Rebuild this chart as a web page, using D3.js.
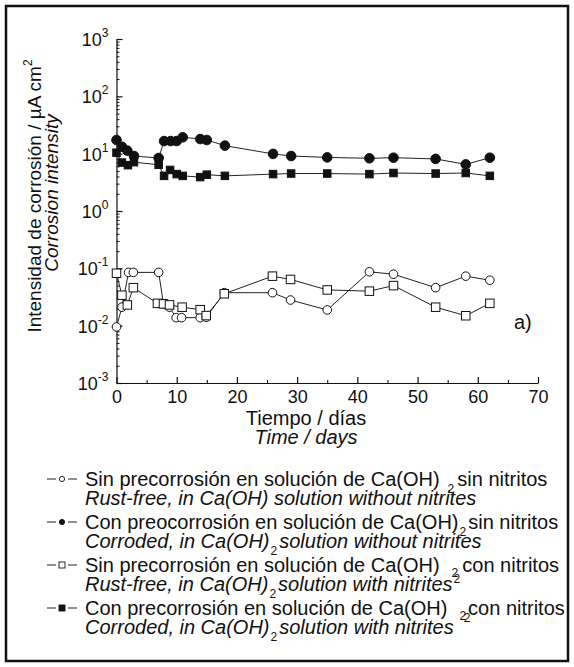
<!DOCTYPE html>
<html>
<head>
<meta charset="utf-8">
<script src="https://cdn.jsdelivr.net/npm/d3@7"></script>
<style>
  body { margin: 0; background: #fff; }
  svg text { font-family: "Liberation Sans", Arial, sans-serif; fill: #111; }
</style>
</head>
<body>
<div id="chart"></div>
<script>
// days and corrosion intensity (µA/cm2) for each series
const tRustFreeNoNit = [0, 0.9, 2, 2.8, 7, 7.8, 8.8, 9.9, 10.8, 13.9, 14.9, 17.9, 25.9, 28.9, 35, 42, 46, 53, 58, 62];
const vRustFreeNoNit = [0.0095, 0.021, 0.085, 0.085, 0.085, 0.024, 0.021, 0.0138, 0.0138, 0.0138, 0.014, 0.0376, 0.0376, 0.028, 0.0188, 0.087, 0.079, 0.046, 0.073, 0.062];

const tCorrodedNoNit = [0, 0.9, 1.8, 2.9, 7, 7.9, 9, 10, 11, 13.9, 15, 18, 26, 29, 35, 42, 46, 53, 58, 62];
const vCorrodedNoNit = [17.3, 13.2, 11.3, 9.1, 8.4, 16.6, 16.6, 16.6, 19.3, 18, 17.3, 13.8, 9.9, 9.1, 8.6, 8.3, 8.5, 8.1, 6.5, 8.5];

const tRustFreeNit = [0, 0.9, 1.8, 2.8, 6.8, 7.8, 8.8, 10.9, 13.9, 14.9, 17.9, 25.9, 28.9, 35, 42, 46, 53, 58, 62];
const vRustFreeNit = [0.082, 0.034, 0.023, 0.046, 0.0245, 0.024, 0.023, 0.021, 0.019, 0.015, 0.036, 0.073, 0.064, 0.042, 0.040, 0.050, 0.021, 0.0149, 0.0245];

const tCorrodedNit = [0, 0.9, 1.9, 2.9, 7, 7.9, 8.9, 10, 11, 13.9, 15, 18, 26, 29, 35, 42, 46, 53, 58, 62];
const vCorrodedNit = [10.4, 7.0, 6.3, 7.1, 6.4, 4.1, 5.2, 4.4, 4.1, 3.9, 4.3, 4.1, 4.4, 4.5, 4.5, 4.4, 4.6, 4.5, 4.6, 4.1];

const xTicks = [0, 10, 20, 30, 40, 50, 60, 70];
const yExponents = [-3, -2, -1, 0, 1, 2, 3];

const width = 574;
const height = 667;
const margin = { top: 39, left: 116.5 };
const plotW = 421.5;
const plotH = 344;
const fs = 20;

const svg = d3.select("#chart").append("svg")
  .attr("width", width)
  .attr("height", height);

// outer frame
svg.append("rect")
  .attr("x", 6).attr("y", 6)
  .attr("width", 562).attr("height", 655)
  .attr("fill", "none").attr("stroke", "#111").attr("stroke-width", 2.5);

const g = svg.append("g").attr("transform", `translate(${margin.left},${margin.top})`);

const x = d3.scaleLinear().domain([0, 70]).range([0, plotW]);
const y = d3.scaleLog().domain([1e-3, 1e3]).range([plotH, 0]);

// x axis, ticks pointing up
const xMinor = d3.range(5, 70, 10);
g.append("g")
  .attr("transform", `translate(0,${plotH})`)
  .call(d3.axisBottom(x).tickValues(xMinor).tickSize(-3).tickFormat(""))
  .call(a => a.select(".domain").remove());
g.append("g")
  .attr("transform", `translate(0,${plotH})`)
  .call(d3.axisBottom(x).tickValues(xTicks).tickSize(-6).tickSizeOuter(0).tickFormat(d3.format("d")))
  .call(a => a.selectAll("text").attr("y", 7).attr("font-size", 18))
  .call(a => a.selectAll("line, path").attr("stroke", "#111").attr("stroke-width", 1.2));

// y axis, ticks pointing right
const yMinor = [];
yExponents.slice(0, -1).forEach(e => {
  for (let k = 2; k <= 9; k++) yMinor.push(k * Math.pow(10, e));
});
g.append("g")
  .call(d3.axisLeft(y).tickValues(yMinor).tickSize(-3).tickFormat(""))
  .call(a => a.select(".domain").remove())
  .call(a => a.selectAll("line").attr("stroke", "#111"));
g.append("g")
  .call(d3.axisLeft(y).tickValues(yExponents.map(e => Math.pow(10, e))).tickSize(-6).tickSizeOuter(0).tickFormat(""))
  .call(a => a.selectAll("line, path").attr("stroke", "#111").attr("stroke-width", 1.2));

yExponents.forEach(e => {
  const t = g.append("text")
    .attr("x", -8)
    .attr("y", y(Math.pow(10, e)) + 7)
    .attr("text-anchor", "end")
    .attr("font-size", 18);
  t.append("tspan").text("10");
  t.append("tspan").attr("dy", -9).attr("font-size", 12).text(e);
});

// axis titles
svg.append("text")
  .attr("x", 306).attr("y", 425)
  .attr("text-anchor", "middle").attr("font-size", fs)
  .text("Tiempo / días");
svg.append("text")
  .attr("x", 306).attr("y", 444)
  .attr("text-anchor", "middle").attr("font-size", fs).attr("font-style", "italic")
  .text("Time / days");

const yt = svg.append("text")
  .attr("transform", "translate(41,196) rotate(-90)")
  .attr("text-anchor", "middle").attr("font-size", 19);
yt.append("tspan").text("Intensidad de corrosión / µA cm");
yt.append("tspan").attr("dy", -9).attr("font-size", 12).text("2");
svg.append("text")
  .attr("transform", "translate(58,193) rotate(-90)")
  .attr("text-anchor", "middle").attr("font-size", 19).attr("font-style", "italic")
  .text("Corrosion intensity");

svg.append("text")
  .attr("x", 514).attr("y", 329).attr("font-size", fs)
  .text("a)");

// series
const series = [
  { t: tRustFreeNoNit, v: vRustFreeNoNit, shape: "circle", fill: "#fff" },
  { t: tRustFreeNit, v: vRustFreeNit, shape: "square", fill: "#fff" },
  { t: tCorrodedNit, v: vCorrodedNit, shape: "square", fill: "#111" },
  { t: tCorrodedNoNit, v: vCorrodedNoNit, shape: "circle", fill: "#111" }
];

const line = d3.line().x(d => x(d[0])).y(d => y(d[1]));

series.forEach(s => {
  const pts = s.t.map((t, i) => [t, s.v[i]]);
  g.append("path")
    .attr("d", line(pts))
    .attr("fill", "none").attr("stroke", "#222").attr("stroke-width", 1);
  if (s.shape === "circle") {
    g.selectAll(null).data(pts).enter().append("circle")
      .attr("cx", d => x(d[0])).attr("cy", d => y(d[1]))
      .attr("r", s.fill === "#fff" ? 4.3 : 4.8)
      .attr("fill", s.fill).attr("stroke", "#111").attr("stroke-width", 1);
  } else {
    const sz = s.fill === "#fff" ? 8.5 : 7.5;
    g.selectAll(null).data(pts).enter().append("rect")
      .attr("x", d => x(d[0]) - sz / 2).attr("y", d => y(d[1]) - sz / 2)
      .attr("width", sz).attr("height", sz)
      .attr("fill", s.fill).attr("stroke", "#111").attr("stroke-width", 1);
  }
});

// legend
const legendRows = [
  { shape: "circle", fill: "#fff", y: 486,
    es: [["Sin precorrosión en solución de Ca(OH)", 0, 0], ["2", 8, 7], ["sin nitritos", 3, -7]],
    en: [["Rust-free, in Ca(OH) solution without nitrites", 0, 0]] },
  { shape: "circle", fill: "#111", y: 529,
    es: [["Con preocorrosión en solución de Ca(OH)", 0, 0], ["2", 1, 7], ["sin nitritos", 2, -7]],
    en: [["Corroded, in Ca(OH)", 0, 0], ["2", 1, 7], ["solution without nitrites", 2, -7]] },
  { shape: "square", fill: "#fff", y: 572,
    es: [["Sin precorrosión en solución de Ca(OH)", 0, 0], ["2", 12, 5], ["con nitritos", 4, -5]],
    en: [["Rust-free, in Ca(OH)", 0, 0], ["2", 1, 7], ["solution with nitrites", 2, -7], ["2", 1, -8]] },
  { shape: "square", fill: "#111", y: 615,
    es: [["Con precorrosión en solución de Ca(OH)", 0, 0], ["2", 12, 5], ["con nitritos", 2, -5]],
    en: [["Corroded, in Ca(OH)", 0, 0], ["2", 1, 7], ["solution with nitrites", 2, -7], ["2", 10, -12]] }
];

legendRows.forEach(r => {
  const ly = r.y - 7;
  svg.append("line").attr("x1", 47).attr("x2", 56).attr("y1", ly).attr("y2", ly)
    .attr("stroke", "#222").attr("stroke-width", 1);
  svg.append("line").attr("x1", 68).attr("x2", 77).attr("y1", ly).attr("y2", ly)
    .attr("stroke", "#222").attr("stroke-width", 1);
  if (r.shape === "circle") {
    svg.append("circle").attr("cx", 62).attr("cy", ly).attr("r", 2.6)
      .attr("fill", r.fill).attr("stroke", "#111").attr("stroke-width", 0.9);
  } else {
    svg.append("rect").attr("x", 59).attr("y", ly - 3).attr("width", 6).attr("height", 6)
      .attr("fill", r.fill).attr("stroke", "#111").attr("stroke-width", 0.9);
  }
  [[r.es, r.y, "normal"], [r.en, r.y + 19, "italic"]].forEach(([parts, yy, st]) => {
    const t = svg.append("text").attr("x", 85).attr("y", yy)
      .attr("font-size", fs).attr("font-style", st);
    parts.forEach(([txt, dx, dy]) => {
      const sp = t.append("tspan").attr("dx", dx).attr("dy", dy).text(txt);
      if (txt === "2") sp.attr("font-size", 12).attr("font-style", "normal");
    });
  });
});
</script>
</body>
</html>
